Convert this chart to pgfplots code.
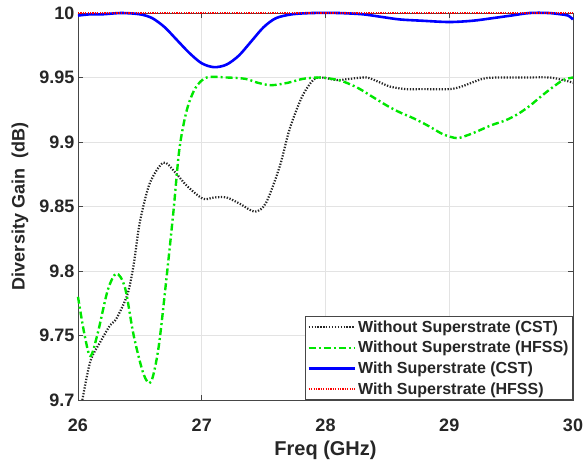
\documentclass[border=0pt]{standalone}
\usepackage{pgfplots}
\pgfplotsset{compat=1.18}
\usepackage{fontspec}
\setmainfont{Liberation Sans}
\definecolor{axgray}{RGB}{70,70,70}
\definecolor{mygreen}{RGB}{0,230,0}
\begin{document}
\begin{tikzpicture}
\begin{axis}[
  scale only axis, width=495pt, height=387pt,
  xmin=26, xmax=30, ymin=9.7, ymax=10,
  clip=false,
  xtick={26,27,28,29,30},
  ytick={9.7,9.75,9.8,9.85,9.9,9.95,10},
  yticklabels={9.7,9.75,9.8,9.85,9.9,9.95,10},
  grid=major, grid style={gray!22, line width=0.7pt},
  axis line style={axgray, line width=0.9pt},
  tick align=inside, major tick length=5pt,
  tick style={axgray, line width=0.7pt},
  /pgf/number format/assume math mode=true,
  ticklabel style={font=\fontsize{18}{20}\selectfont\bfseries, text=black!85},
  xticklabel style={yshift=-15pt},
  yticklabel style={xshift=0pt},
  xlabel={Freq (GHz)}, ylabel={Diversity Gain\ \ (dB)},
  xlabel style={font=\fontsize{20}{22}\selectfont\bfseries, text=black!85,
    at={(axis description cs:0.5,0)}, anchor=center, yshift=-50pt},
  ylabel style={font=\fontsize{18}{21}\selectfont\bfseries, text=black!85,
    at={(axis description cs:-0.117,0.5)}, anchor=center},
  legend style={at={(1,0)}, anchor=south east, draw=axgray, line width=0.9pt,
    font=\fontsize{16}{19}\selectfont\bfseries, text=black!85,
    cells={anchor=west}, inner xsep=2pt, inner ysep=2pt, row sep=3.5pt},
  legend image code/.code={\draw[#1] (0pt,0pt) -- (46pt,0pt);},
  every axis plot/.append style={line join=round},
]
% Without Superstrate (CST)
\addplot[black!85, line width=2.2pt, dash pattern=on 1.3pt off 1.6pt, smooth, tension=0.5] coordinates {
(26.035,9.700) (26.10,9.730) (26.18,9.745) (26.26,9.758) (26.31,9.763)
(26.40,9.782) (26.45,9.805) (26.50,9.838) (26.58,9.868) (26.69,9.884) (26.78,9.877)
(26.88,9.866) (27.01,9.856) (27.10,9.857) (27.20,9.857) (27.31,9.852) (27.43,9.846)
(27.52,9.853) (27.63,9.881) (27.71,9.910) (27.81,9.935) (27.90,9.948) (27.97,9.950)
(28.09,9.948) (28.20,9.949) (28.33,9.950) (28.42,9.947) (28.52,9.943) (28.65,9.941)
(28.78,9.941) (29.00,9.941) (29.10,9.943) (29.27,9.949) (29.40,9.950) (29.60,9.950)
(29.81,9.950) (29.92,9.948) (30.00,9.946)};
\addlegendentry{Without Superstrate (CST)}
% Without Superstrate (HFSS)
\addplot[mygreen, line width=2.4pt, dash pattern=on 7pt off 3pt on 2pt off 3pt, smooth, tension=0.5] coordinates {
(26.00,9.780) (26.05,9.752) (26.10,9.734) (26.16,9.752) (26.24,9.785) (26.31,9.798)
(26.38,9.787) (26.45,9.750) (26.53,9.720) (26.59,9.714) (26.65,9.740) (26.71,9.790)
(26.77,9.845) (26.82,9.895) (26.88,9.925) (26.95,9.942) (27.04,9.950) (27.20,9.950)
(27.35,9.949) (27.45,9.946) (27.56,9.944) (27.70,9.946) (27.82,9.949) (27.95,9.950)
(28.05,9.949) (28.14,9.947) (28.26,9.942) (28.38,9.935) (28.50,9.928) (28.60,9.923)
(28.72,9.918) (28.84,9.912) (28.95,9.906) (29.06,9.903) (29.14,9.905) (29.22,9.908)
(29.34,9.913) (29.46,9.917) (29.56,9.922) (29.65,9.928) (29.75,9.936) (29.83,9.942)
(29.92,9.948) (30.00,9.950)};
\addlegendentry{Without Superstrate (HFSS)}
% With Superstrate (CST)
\addplot[blue, line width=2.6pt, smooth, tension=0.5] coordinates {
(26.00,9.998) (26.10,9.999) (26.20,9.999) (26.35,10.000) (26.50,9.999) (26.60,9.996)
(26.70,9.989) (26.80,9.979) (26.90,9.969) (27.00,9.961) (27.10,9.958) (27.20,9.960)
(27.30,9.967) (27.40,9.978) (27.50,9.989) (27.60,9.996) (27.73,9.999) (27.90,10.000)
(28.10,10.000) (28.30,9.999) (28.45,9.997) (28.60,9.995) (28.78,9.994) (29.00,9.993)
(29.19,9.994) (29.35,9.996) (29.50,9.998) (29.65,10.000) (29.80,10.000) (29.90,9.999)
(29.96,9.998) (30.00,9.995)};
\addlegendentry{With Superstrate (CST)}
% With Superstrate (HFSS)
\addplot[red, line width=1.6pt, dash pattern=on 1.2pt off 1.2pt] coordinates {
(26.00,10.000) (27.00,10.000) (28.00,10.000) (29.00,10.000) (30.00,10.000)};
\addlegendentry{With Superstrate (HFSS)}
\end{axis}
\pgfresetboundingbox
\path (current axis.south west) ++(-78pt,-62pt) rectangle ([xshift=11pt,yshift=13pt]current axis.north east);
\end{tikzpicture}
\end{document}
